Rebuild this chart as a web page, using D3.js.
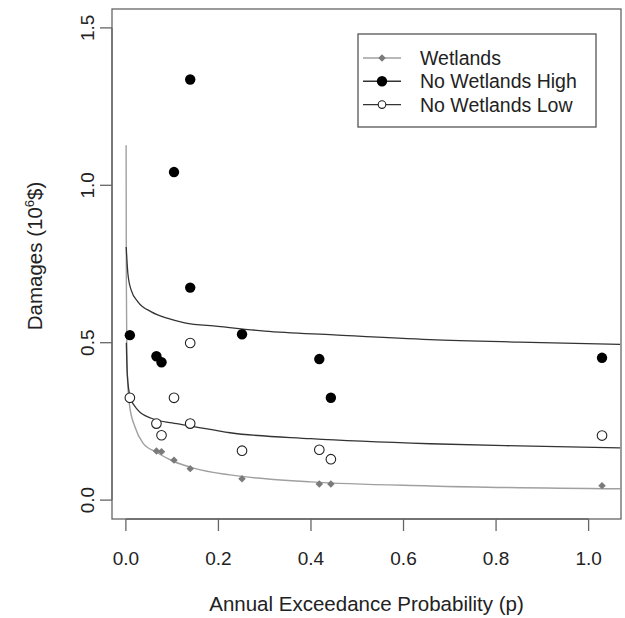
<!DOCTYPE html>
<html>
<head>
<meta charset="utf-8">
<script src="https://cdn.jsdelivr.net/npm/d3@7"></script>
<style>
  body { margin: 0; background: white; }
  text { font-family: "Liberation Sans", Arial, sans-serif; fill: #222; }
</style>
</head>
<body>
<script>
// observed points (p, damages in 10^6 $)
var highP = [0.0086, 0.066, 0.077, 0.104, 0.139, 0.139, 0.251, 0.418, 0.443, 1.029];
var highY = [0.524, 0.457, 0.438, 1.042, 0.675, 1.336, 0.527, 0.448, 0.325, 0.452];
var lowP = [0.0086, 0.066, 0.077, 0.104, 0.139, 0.139, 0.251, 0.418, 0.443, 1.029];
var lowY = [0.325, 0.243, 0.206, 0.325, 0.499, 0.243, 0.157, 0.160, 0.130, 0.205];
var wetP = [0.066, 0.077, 0.104, 0.139, 0.251, 0.418, 0.443, 1.029];
var wetY = [0.156, 0.154, 0.127, 0.100, 0.068, 0.051, 0.051, 0.046];

// fitted curves
var highCurveP = [0.0007, 0.0043, 0.0115, 0.026, 0.055, 0.091, 0.127, 0.199, 0.3, 0.45, 0.657, 0.85, 1.068];
var highCurveY = [0.804, 0.72, 0.667, 0.630, 0.598, 0.577, 0.563, 0.552, 0.537, 0.525, 0.510, 0.502, 0.495];
var lowCurveP = [0.001, 0.003, 0.0093, 0.026, 0.055, 0.1, 0.138, 0.225, 0.4, 0.657, 0.85, 1.068];
var lowCurveY = [0.50, 0.40, 0.328, 0.286, 0.26, 0.245, 0.236, 0.214, 0.195, 0.179, 0.172, 0.166];
var wetCurveP = [0.0005, 0.001, 0.002, 0.004, 0.008, 0.0195, 0.037, 0.066, 0.1, 0.15, 0.225, 0.4, 0.657, 1.068];
var wetCurveY = [1.127, 0.70, 0.48, 0.37, 0.30, 0.233, 0.181, 0.152, 0.125, 0.100, 0.080, 0.058, 0.045, 0.036];

var xTicks = [0, 0.2, 0.4, 0.6, 0.8, 1.0];
var yTicks = [0, 0.5, 1.0, 1.5];
var legendLabels = ["Wetlands", "No Wetlands High", "No Wetlands Low"];

var W = 625, H = 618;
var mLeft = 112, mRight = 621, mTop = 9, mBottom = 519;
var axisCol = "#666", darkLine = "#333", wetCol = "#a0a0a0", wetPt = "#7a7a7a";

var svg = d3.select("body").append("svg").attr("width", W).attr("height", H);

var x = d3.scaleLinear().domain([-0.03, 1.07]).range([mLeft, mRight]);
var y = d3.scaleLinear().domain([-0.06, 1.56]).range([mBottom, mTop]);

function zip(a, b) { return a.map(function(v, i) { return [v, b[i]]; }); }

/* plot box */
svg.append("rect")
    .attr("x", mLeft).attr("y", mTop)
    .attr("width", mRight - mLeft).attr("height", mBottom - mTop)
    .attr("fill", "none").attr("stroke", axisCol).attr("stroke-width", 1.3);

// x axis, R style
var xAxis = svg.append("g");
xAxis.append("line")
    .attr("x1", x(xTicks[0])).attr("x2", x(xTicks[xTicks.length - 1]))
    .attr("y1", mBottom).attr("y2", mBottom)
    .attr("stroke", axisCol).attr("stroke-width", 1.3);
xAxis.selectAll(".xt").data(xTicks).enter().append("line")
    .attr("x1", d => x(d)).attr("x2", d => x(d))
    .attr("y1", mBottom).attr("y2", mBottom + 12)
    .attr("stroke", axisCol).attr("stroke-width", 1.3);
xAxis.selectAll(".xl").data(xTicks).enter().append("text")
    .attr("x", d => x(d)).attr("y", 565)
    .attr("text-anchor", "middle").attr("font-size", 19)
    .text(d3.format(".1f"));
svg.append("text")
    .attr("x", (mLeft + mRight) / 2).attr("y", 611)
    .attr("text-anchor", "middle").attr("font-size", 20.5)
    .text("Annual Exceedance Probability (p)");

// y axis
var yAxis = svg.append("g");
yAxis.append("line")
    .attr("x1", mLeft).attr("x2", mLeft)
    .attr("y1", y(yTicks[0])).attr("y2", y(yTicks[yTicks.length - 1]))
    .attr("stroke", axisCol).attr("stroke-width", 1.3);
yAxis.selectAll(".yt").data(yTicks).enter().append("line")
    .attr("x1", mLeft - 12).attr("x2", mLeft)
    .attr("y1", d => y(d)).attr("y2", d => y(d))
    .attr("stroke", axisCol).attr("stroke-width", 1.3);
yAxis.selectAll(".yl").data(yTicks).enter().append("text")
    .attr("transform", d => "translate(94," + y(d) + ") rotate(-90)")
    .attr("text-anchor", "middle").attr("font-size", 19)
    .text(d3.format(".1f"));

var yTitle = svg.append("text")
    .attr("transform", "translate(42,256) rotate(-90)")
    .attr("text-anchor", "middle").attr("font-size", 20.5);
yTitle.append("tspan").text("Damages (10");
yTitle.append("tspan").attr("font-size", 13).attr("dy", -8).text("6");
yTitle.append("tspan").attr("dy", 8).text("$)");

// curves
var line = d3.line().x(d => x(d[0])).y(d => y(d[1])).curve(d3.curveMonotoneX);
svg.append("path").datum(zip(wetCurveP, wetCurveY))
    .attr("d", line).attr("fill", "none").attr("stroke", wetCol).attr("stroke-width", 1.4);
svg.append("path").datum(zip(highCurveP, highCurveY))
    .attr("d", line).attr("fill", "none").attr("stroke", darkLine).attr("stroke-width", 1.3);
svg.append("path").datum(zip(lowCurveP, lowCurveY))
    .attr("d", line).attr("fill", "none").attr("stroke", darkLine).attr("stroke-width", 1.3);

// points -- R pch 18 style diamond: a rotated square
var diamond = d3.symbol().type(d3.symbolSquare).size(28);
svg.selectAll(".wet").data(zip(wetP, wetY)).enter().append("path")
    .attr("d", diamond)
    .attr("transform", d => "translate(" + x(d[0]) + "," + y(d[1]) + ") rotate(45)")
    .attr("fill", wetPt);
svg.selectAll(".hi").data(zip(highP, highY)).enter().append("circle")
    .attr("cx", d => x(d[0])).attr("cy", d => y(d[1])).attr("r", 5.2)
    .attr("fill", "black");
svg.selectAll(".lo").data(zip(lowP, lowY)).enter().append("circle")
    .attr("cx", d => x(d[0])).attr("cy", d => y(d[1])).attr("r", 4.8)
    .attr("fill", "white").attr("stroke", "#222").attr("stroke-width", 1.1);

// legend
var lg = svg.append("g");
lg.append("rect").attr("x", 358).attr("y", 34).attr("width", 238).attr("height", 93)
    .attr("fill", "white").attr("stroke", "#555").attr("stroke-width", 1.3);
var rows = lg.selectAll(".row").data(legendLabels).enter().append("g")
    .attr("transform", (d, i) => "translate(0," + (58 + i * 23.3) + ")");
rows.append("line").attr("x1", 363).attr("x2", 401).attr("y1", 0).attr("y2", 0)
    .attr("stroke", (d, i) => i == 0 ? wetCol : darkLine).attr("stroke-width", 1.4);
rows.append("text").attr("x", 420).attr("y", 7).attr("font-size", 19.5).text(d => d);
rows.filter((d, i) => i == 0).append("path").attr("d", diamond)
    .attr("transform", "translate(382,0) rotate(45)").attr("fill", wetPt);
rows.filter((d, i) => i == 1).append("circle").attr("cx", 382).attr("r", 5.2).attr("fill", "black");
rows.filter((d, i) => i == 2).append("circle").attr("cx", 382).attr("r", 3.8)
    .attr("fill", "white").attr("stroke", "#222").attr("stroke-width", 1.1);
</script>
</body>
</html>
